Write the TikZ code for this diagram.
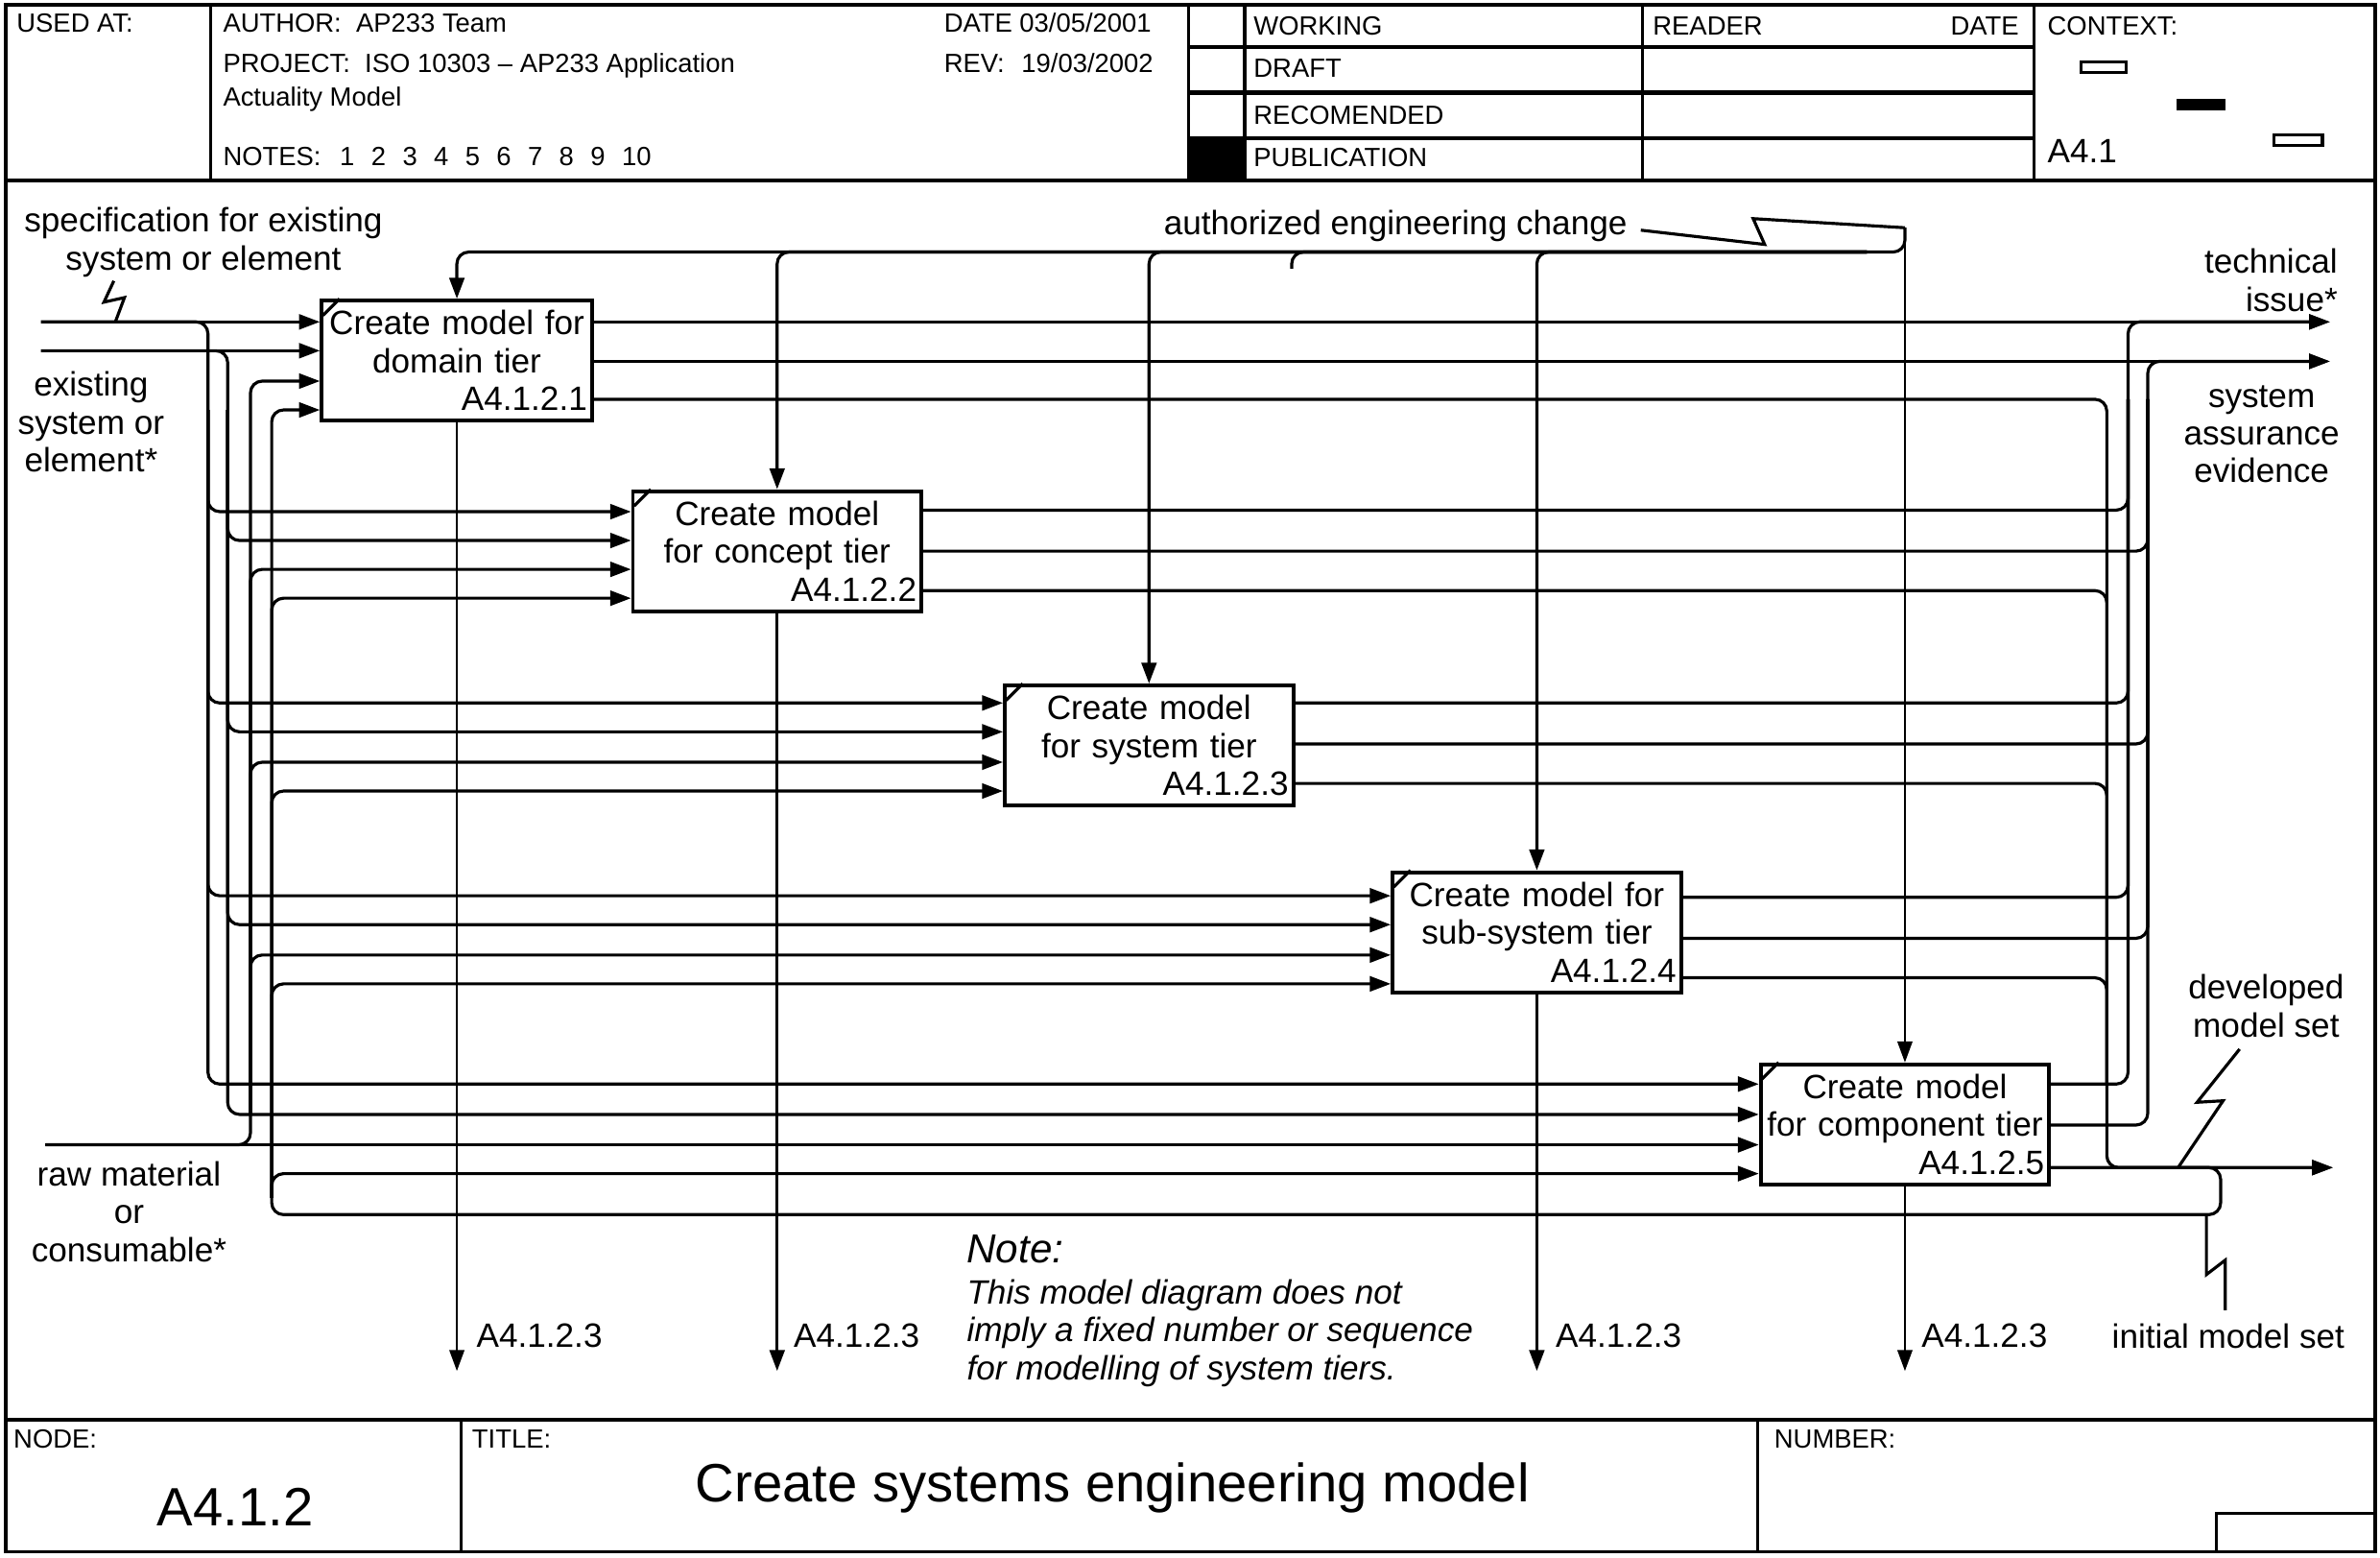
\documentclass[tikz,border=0pt]{standalone}
\usepackage{fontspec}
\setmainfont{Liberation Sans}
\usetikzlibrary{arrows.meta}

\newcommand{\hdsize}{\fontsize{7.8}{9}\selectfont}
\newcommand{\lbsize}{\fontsize{10}{11.22}\selectfont}
\newcommand{\bigsize}{\fontsize{16}{19}\selectfont}
\newcommand{\ns}{\hspace{4.95pt}}

\begin{document}
\begin{tikzpicture}[x=0.15816mm, y=-0.15816mm, >={Triangle[length=6.2pt,width=4.4pt]},
  line width=0.9pt, font=\lbsize,
  frame/.style={line width=1.1pt},
  act/.style={draw, line width=1.1pt, minimum height=1.25cm, inner xsep=0.05cm, inner ysep=0pt, text width=#1, align=center},
  rc/.style={rounded corners=3.5pt},
  thinline/.style={line width=0.6pt},
  hd/.style={font=\hdsize, anchor=base west, inner sep=0pt},
  lbl/.style={align=center, inner sep=0pt}]
  \useasboundingbox (0,0) rectangle (1568,1026);

  % form frame
  \draw[frame] (4,3) rectangle (1565,1022);
  \draw[frame] (4,119) -- (1565,119);
  \draw[frame] (4,935) -- (1565,935);
  \draw (139,3) -- (139,119);
  \draw (783,3) -- (783,119);
  \draw (820,3) -- (820,119);
  \draw (1082,3) -- (1082,119);
  \draw (1340,3) -- (1340,119);
  \draw (783,31) -- (1340,31);
  \draw[line width=1.6pt] (783,61) -- (1340,61);
  \draw (783,91) -- (1340,91);
  \fill (783,91) rectangle (820,119);
  \draw (304,935) -- (304,1022);
  \draw (1158,935) -- (1158,1022);
  \draw (1460,1022) -- (1460,997) -- (1565,997);

  % header texts
  \node[hd] (usedat) at (10,21) {USED AT:};
  \node[hd] (author) at (146,21) {AUTHOR:\ \ AP233 Team};
  \node[hd] (project) at (146,48) {PROJECT:\ \ ISO 10303 -- AP233 Application};
  \node[hd] (actual) at (146,70) {Actuality Model};
  \node[hd] (notes) at (146,109) {NOTES:\hspace{5.6pt}1\ns 2\ns 3\ns 4\ns 5\ns 6\ns 7\ns 8\ns 9\ns 10};
  \node[hd] (date) at (621,21) {DATE 03/05/2001};
  \node[hd] (rev) at (621,48) {REV:};
  \node[hd] (revdate) at (672,48) {19/03/2002};
  \node[hd] (working) at (825,23) {WORKING};
  \node[hd] (draft) at (825,51) {DRAFT};
  \node[hd] (recom) at (825,82) {RECOMENDED};
  \node[hd] (public) at (825,110) {PUBLICATION};
  \node[hd] (reader) at (1088,23) {READER};
  \node[hd, anchor=base east] (rdate) at (1331,23) {DATE};
  \node[hd] (context) at (1348,23) {CONTEXT:};
  \node[anchor=base west, inner sep=0pt] (ctxid) at (1348,107) {A4.1};
  \draw (1371,41) rectangle (1401,48);
  \fill (1434,65) rectangle (1466,73);
  \draw (1498,89) rectangle (1530,96);

  % footer texts
  \node[hd] (nodehd) at (8,954) {NODE:};
  \node[hd] (titlehd) at (310,954) {TITLE:};
  \node[hd] (numhd) at (1168,954) {NUMBER:};
  \node[font=\bigsize, anchor=base, inner sep=0pt] (nodeid) at (155,1005) {A4.1.2};
  \node[font=\bigsize, anchor=base, inner sep=0pt] (title) at (733,989) {Create systems engineering model};

  % activity boxes
  \node[act=2.715cm] (b1) at (301,237.5) {Create model for\\domain tier\\\mbox{}\hfill A4.1.2.1};
  \node[act=2.905cm] (b2) at (512,363) {Create model\\for concept tier\\\mbox{}\hfill A4.1.2.2};
  \node[act=2.905cm] (b3) at (757,491) {Create model\\for system tier\\\mbox{}\hfill A4.1.2.3};
  \node[act=2.905cm] (b4) at (1012.5,614) {Create model for\\sub-system tier\\\mbox{}\hfill A4.1.2.4};
  \node[act=2.905cm] (b5) at (1255,740.5) {Create model\\for component tier\\\mbox{}\hfill A4.1.2.5};
  \draw (b1.north west) ++(2,11) -- ++(11,-11);
  \draw (b2.north west) ++(2,11) -- ++(11,-11);
  \draw (b3.north west) ++(2,11) -- ++(11,-11);
  \draw (b4.north west) ++(2,11) -- ++(11,-11);
  \draw (b5.north west) ++(2,11) -- ++(11,-11);

  % inputs and outputs on the box sides
  \coordinate (b1i1) at (b1.west |- 0,212);
  \coordinate (b1i2) at (b1.west |- 0,231);
  \coordinate (b1i3) at (b1.west |- 0,251);
  \coordinate (b1i4) at (b1.west |- 0,270);
  \coordinate (b2i1) at (b2.west |- 0,337);
  \coordinate (b2i2) at (b2.west |- 0,356);
  \coordinate (b2i3) at (b2.west |- 0,375);
  \coordinate (b2i4) at (b2.west |- 0,394);
  \coordinate (b3i1) at (b3.west |- 0,463);
  \coordinate (b3i2) at (b3.west |- 0,482);
  \coordinate (b3i3) at (b3.west |- 0,502);
  \coordinate (b3i4) at (b3.west |- 0,521);
  \coordinate (b4i1) at (b4.west |- 0,590);
  \coordinate (b4i2) at (b4.west |- 0,609);
  \coordinate (b4i3) at (b4.west |- 0,629);
  \coordinate (b4i4) at (b4.west |- 0,648);
  \coordinate (b5i1) at (b5.west |- 0,714);
  \coordinate (b5i2) at (b5.west |- 0,734);
  \coordinate (b5i3) at (b5.west |- 0,754);
  \coordinate (b5i4) at (b5.west |- 0,773);
  \coordinate (b1o1) at (b1.east |- 0,212);
  \coordinate (b1o2) at (b1.east |- 0,238);
  \coordinate (b1o3) at (b1.east |- 0,263);
  \coordinate (b2o1) at (b2.east |- 0,336);
  \coordinate (b2o2) at (b2.east |- 0,363);
  \coordinate (b2o3) at (b2.east |- 0,389);
  \coordinate (b3o1) at (b3.east |- 0,463);
  \coordinate (b3o2) at (b3.east |- 0,490);
  \coordinate (b3o3) at (b3.east |- 0,516);
  \coordinate (b4o1) at (b4.east |- 0,591);
  \coordinate (b4o2) at (b4.east |- 0,618);
  \coordinate (b4o3) at (b4.east |- 0,644);
  \coordinate (b5o1) at (b5.east |- 0,714);
  \coordinate (b5o2) at (b5.east |- 0,741);
  \coordinate (b5o3) at (b5.east |- 0,769);

  % bus columns and free ends
  \coordinate (colA) at (137,0);
  \coordinate (colB) at (150,0);
  \coordinate (colC) at (165,0);
  \coordinate (colD) at (179,0);
  \coordinate (colE) at (1388,0);
  \coordinate (colF) at (1402,0);
  \coordinate (colG) at (1415,0);
  \coordinate (spec) at (27,212);
  \coordinate (exist) at (27,231);
  \coordinate (raw) at (30,754);
  \coordinate (tech) at (1535,212);
  \coordinate (assur) at (1535,238);
  \coordinate (devel) at (1537,769);
  \coordinate (aec) at (b5.north |- 0,150);
  \coordinate (ctl) at (1230,166);
  \coordinate (stub) at (851,177);
  \coordinate (callY) at (0,903);
  \coordinate (loopR) at (1463,800);
  \coordinate (loopU) at (179,789);

  % boundary labels
  \node[lbl] (specl) at (134,159.5) {specification for existing\\system or element};
  \node[lbl] (existl) at (60,278) {existing\\system or\\element*};
  \node[lbl] (rawl) at (85,798) {raw material\\or\\consumable*};
  \node[lbl, anchor=east] (aecl) at (1073,149) {authorized engineering change};
  \node[lbl, align=right, anchor=east] (techl) at (1541,184.5) {technical\\issue*};
  \node[lbl] (assurl) at (1490,286) {system\\assurance\\evidence};
  \node[lbl] (devl) at (1493,662.5) {developed\\model set};
  \node[lbl] (initl) at (1468,880) {initial model set};

  % squiggles
  \draw (75,185) -- (68.5,199) -- (82,196) -- (76,212);
  \draw (1081,151.6) -- (1162.6,161) -- (1155,144) -- (aec);
  \draw (1435,769) -- (1464.6,725) -- (1447.5,726) -- (1475.5,691);
  \draw (1466,863) -- (1466,830) -- (1453.6,839.5) -- (1453.6,800);

  % straight flows
  \draw[->] (spec) -- (b1i1);
  \draw[->] (exist) -- (b1i2);
  \draw[->] (raw) -- (b5i3);
  \draw[->] (b1o1) -- (tech);
  \draw[->] (b1o2) -- (assur);
  \draw[->] (b5o3) -- (devel);

  % specification to every tier
  \draw[->, rc] (spec) -| (colA |- b5i1) -- (b5i1);
  \draw[->, rc] (colA |- b1i4) |- (b2i1);
  \draw[->, rc] (colA |- b1i4) |- (b3i1);
  \draw[->, rc] (colA |- b1i4) |- (b4i1);

  % existing system to every tier
  \draw[->, rc] (exist) -| (colB |- b5i2) -- (b5i2);
  \draw[->, rc] (colB |- b1i4) |- (b2i2);
  \draw[->, rc] (colB |- b1i4) |- (b3i2);
  \draw[->, rc] (colB |- b1i4) |- (b4i2);

  % raw material to every tier
  \draw[->, rc] (raw) -| (colC |- b1i3) -- (b1i3);
  \draw[->, rc] (colC |- b5i2) |- (b4i3);
  \draw[->, rc] (colC |- b5i2) |- (b3i3);
  \draw[->, rc] (colC |- b5i2) |- (b2i3);

  % model set loop back to every tier
  \draw[->, rc] (b5o3) -| (loopR) -| (colD |- b1i4) -- (b1i4);
  \draw[->, rc] (loopU) |- (b5i4);
  \draw[->, rc] (loopU) |- (b4i4);
  \draw[->, rc] (loopU) |- (b3i4);
  \draw[->, rc] (loopU) |- (b2i4);

  % technical issues
  \draw[->, rc] (b5o1) -| (colF |- tech) -- (tech);
  \draw[rc] (b2o1) -| (colF |- b1o3);
  \draw[rc] (b3o1) -| (colF |- b1o3);
  \draw[rc] (b4o1) -| (colF |- b1o3);

  % assurance evidence
  \draw[->, rc] (b5o2) -| (colG |- assur) -- (assur);
  \draw[rc] (b2o2) -| (colG |- b1o3);
  \draw[rc] (b3o2) -| (colG |- b1o3);
  \draw[rc] (b4o2) -| (colG |- b1o3);

  % developed models
  \draw[->, rc] (b1o3) -| (colE |- devel) -- (devel);
  \draw[rc] (b2o3) -| (colE |- b5o1);
  \draw[rc] (b3o3) -| (colE |- b5o1);
  \draw[rc] (b4o3) -| (colE |- b5o1);

  % engineering change controls
  \draw[->, thinline] (aec) -- (b5.north);
  \draw[->, rc] (aec) |- (b1.north |- ctl) -- (b1.north);
  \draw[->, rc] (ctl) -| (b2.north);
  \draw[->, rc] (ctl) -| (b3.north);
  \draw[->, rc] (ctl) -| (b4.north);
  \draw[rc] (ctl) -| (stub);

  % calls to A4.1.2.3
  \draw[->, thinline] (b1.south) -- (b1.south |- callY);
  \draw[->] (b2.south) -- (b2.south |- callY);
  \draw[->] (b4.south) -- (b4.south |- callY);
  \draw[->, thinline] (b5.south) -- (b5.south |- callY);
  \node[anchor=west, inner sep=0pt] (k1) at (313,880) {A4.1.2.3};
  \node[anchor=west, inner sep=0pt] (k2) at (522,880) {A4.1.2.3};
  \node[anchor=west, inner sep=0pt] (k4) at (1024,880) {A4.1.2.3};
  \node[anchor=west, inner sep=0pt] (k5) at (1265,880) {A4.1.2.3};

  % note
  \node[anchor=west, inner sep=0pt, font=\fontsize{12}{14}\selectfont\itshape] (notel) at (636,823) {Note:};
  \node[anchor=west, align=left, inner sep=0pt, font=\lbsize\itshape] (notet) at (636,878) {This model diagram does not\\imply a fixed number or sequence\\for modelling of system tiers.};
\end{tikzpicture}
\end{document}
